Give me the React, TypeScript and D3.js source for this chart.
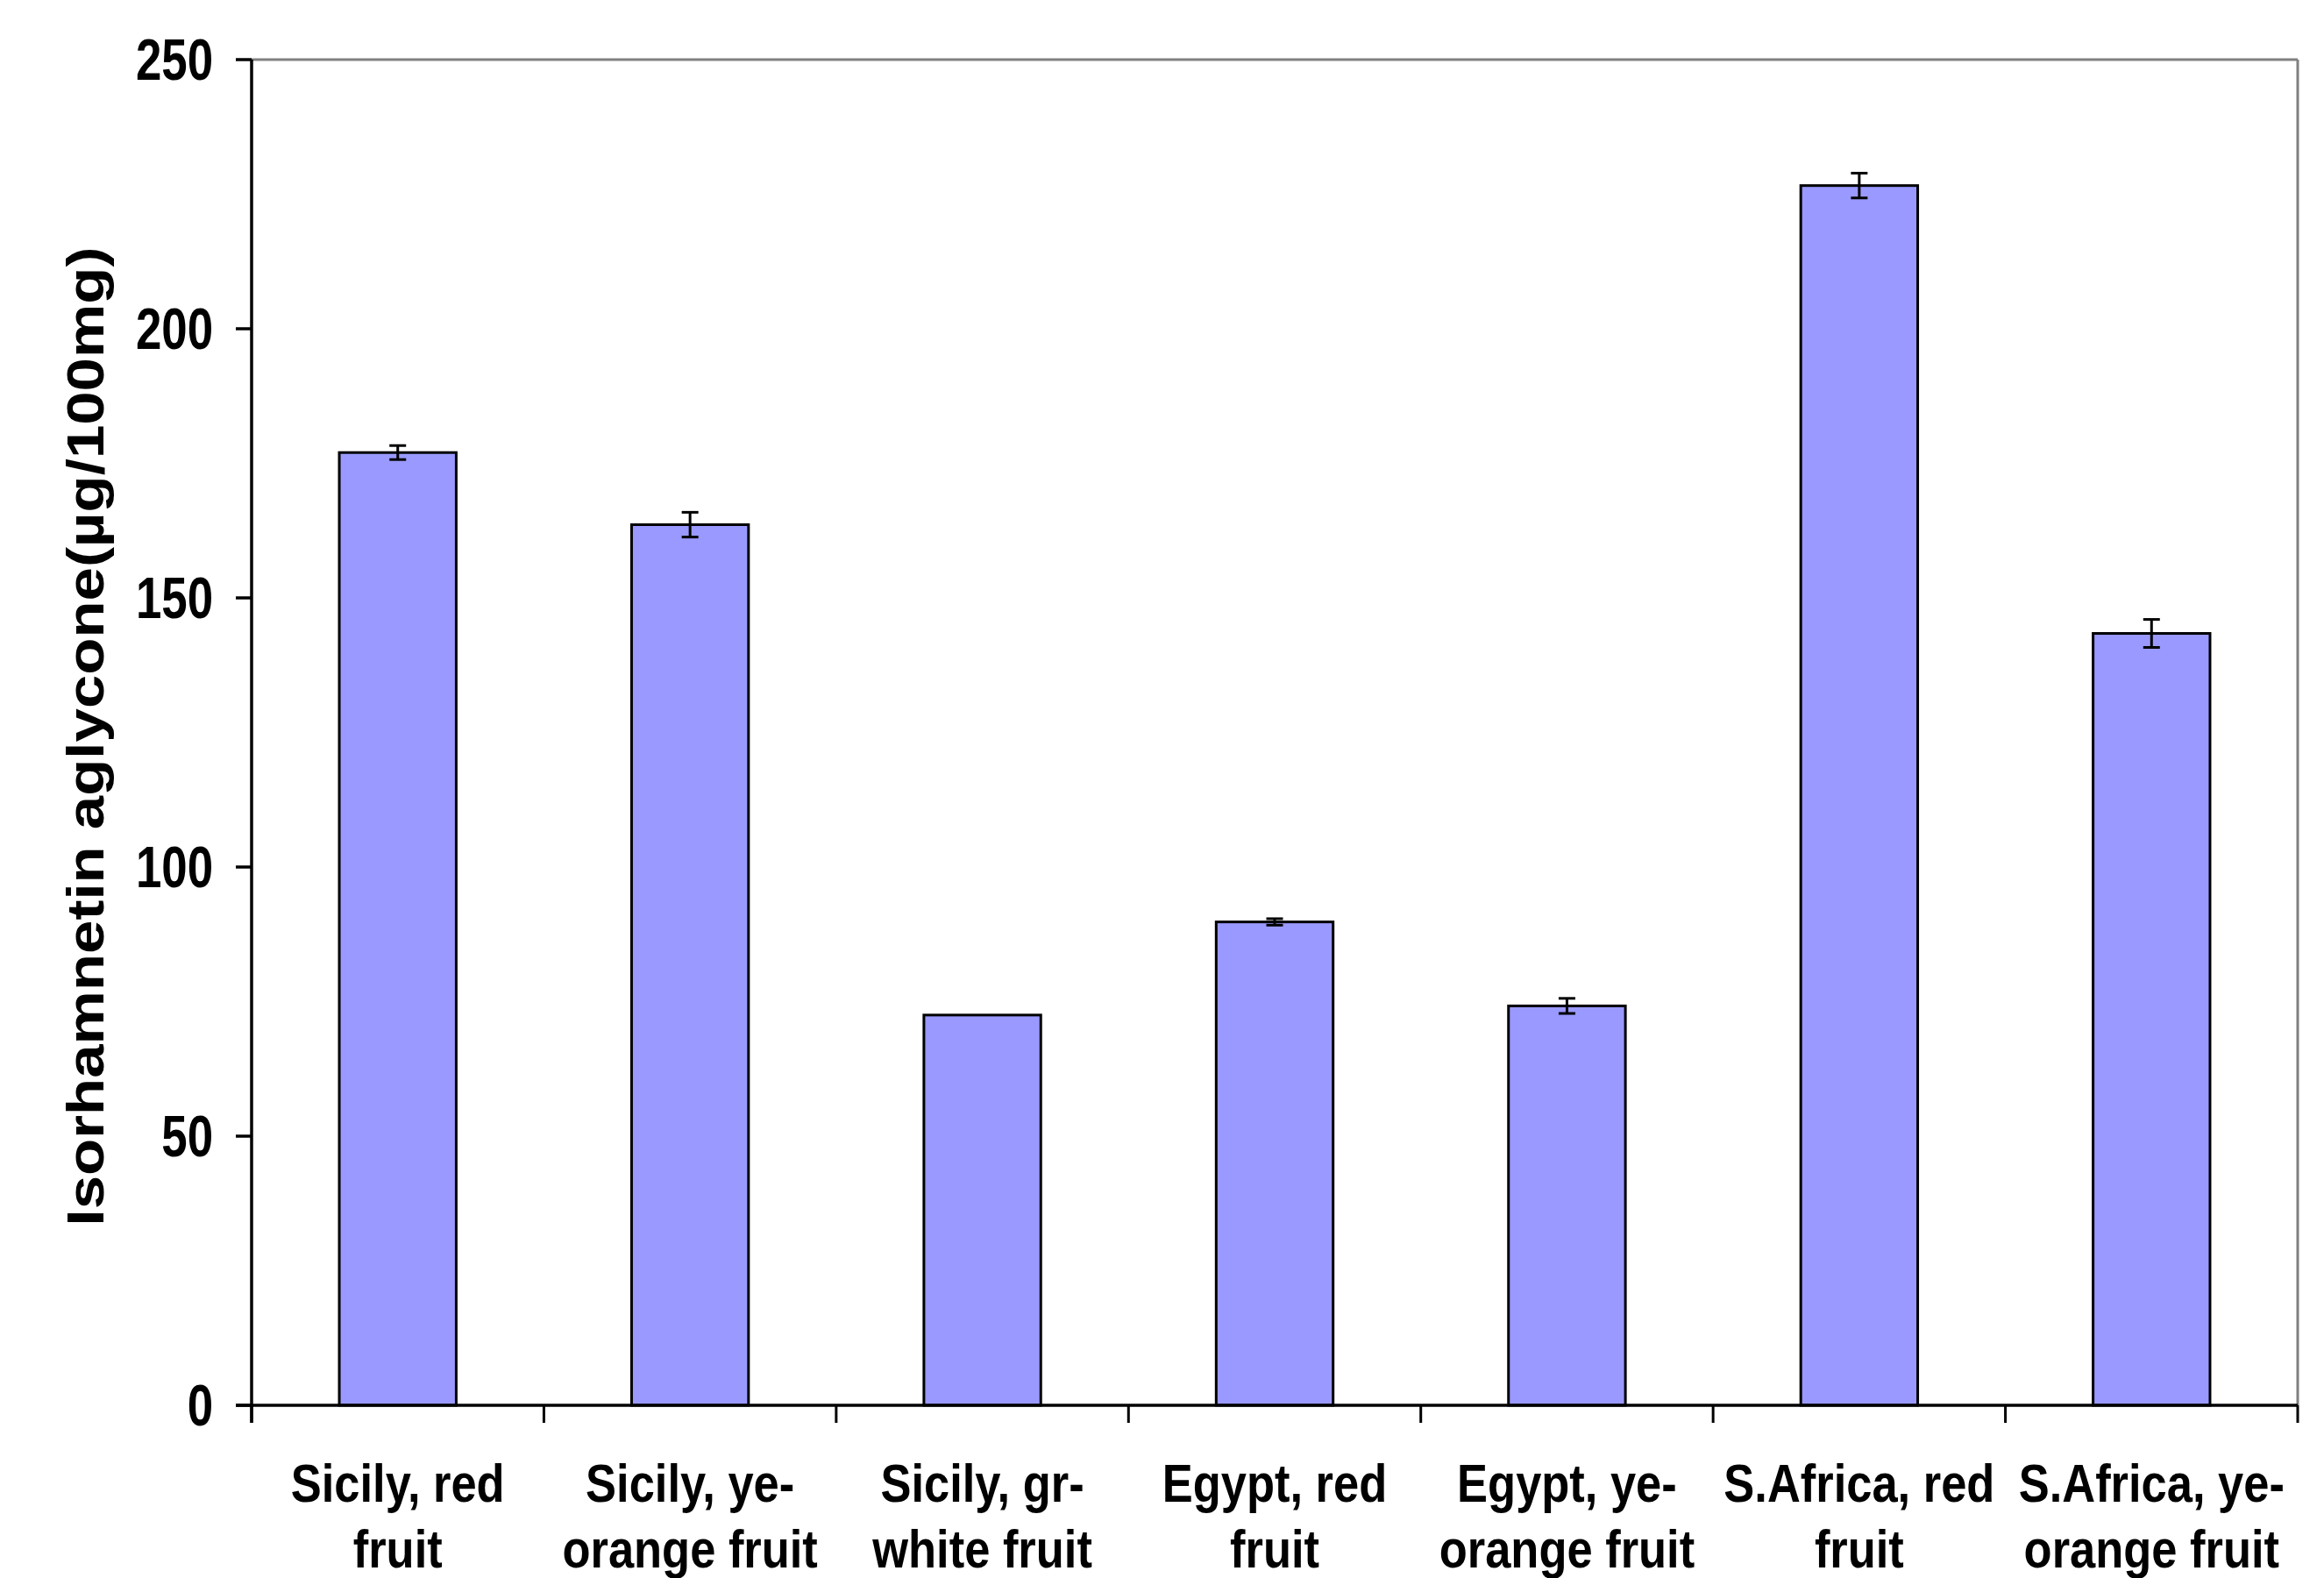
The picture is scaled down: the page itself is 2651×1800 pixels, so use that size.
import React from "react";
import * as d3 from "d3";

const categories: string[][] = [
  ["Sicily, red", "fruit"],
  ["Sicily, ye-", "orange fruit"],
  ["Sicily, gr-", "white fruit"],
  ["Egypt, red", "fruit"],
  ["Egypt, ye-", "orange fruit"],
  ["S.Africa, red", "fruit"],
  ["S.Africa, ye-", "orange fruit"],
];
const values: number[] = [177, 163.6, 72.5, 89.8, 74.2, 226.6, 143.4];
const errors: number[] = [1.3, 2.3, 0, 0.6, 1.4, 2.3, 2.6];
const yTicks: number[] = [0, 50, 100, 150, 200, 250];
const yTitle = "Isorhamnetin aglycone(µg/100mg)";

const W = 2651;
const H = 1800;
const left = 287;
const right = 2621;
const top = 68;
const bottom = 1603;

export default function App() {
  const idx = categories.map((_, i) => String(i));
  const x = d3.scaleBand<string>().domain(idx).range([left, right]).paddingInner(0.6).paddingOuter(0.3);
  const xOuter = d3.scaleBand<string>().domain(idx).range([left, right]);
  const y = d3.scaleLinear().domain([0, 250]).range([bottom, top]);
  const font = "'Liberation Sans', Arial, sans-serif";
  const boundaries = d3.range(categories.length + 1).map((i) => left + i * xOuter.step());

  return (
    <svg width={W} height={H} style={{ position: "absolute", left: 0, top: 0, background: "#fff" }}>
      <rect x={0} y={0} width={W} height={H} fill="#fff" />
      <line x1={left} x2={right} y1={top} y2={top} stroke="#808080" strokeWidth={3} />
      <line x1={right} x2={right} y1={top} y2={bottom} stroke="#808080" strokeWidth={3} />
      {values.map((v, i) => (
        <rect
          key={"b" + i}
          x={x(String(i))}
          y={y(v)}
          width={x.bandwidth()}
          height={bottom - y(v)}
          fill="#9999FF"
          stroke="#000"
          strokeWidth={3}
        />
      ))}
      {values.map((v, i) => {
        const e = errors[i];
        if (!e) return null;
        const cx = (x(String(i)) as number) + x.bandwidth() / 2;
        return (
          <g key={"e" + i} stroke="#000" strokeWidth={3}>
            <line x1={cx} x2={cx} y1={y(v + e)} y2={y(v - e)} />
            <line x1={cx - 9.5} x2={cx + 9.5} y1={y(v + e)} y2={y(v + e)} />
            <line x1={cx - 9.5} x2={cx + 9.5} y1={y(v - e)} y2={y(v - e)} />
          </g>
        );
      })}
      <line x1={left} x2={left} y1={top} y2={bottom + 20} stroke="#000" strokeWidth={3.5} />
      <line x1={left - 18} x2={right} y1={bottom} y2={bottom} stroke="#000" strokeWidth={3.5} />
      {yTicks.map((t) => (
        <g key={"yt" + t}>
          <line x1={left - 18} x2={left} y1={y(t)} y2={y(t)} stroke="#000" strokeWidth={3.5} />
          <text
            transform={`translate(${left - 44},${y(t)}) scale(0.8,1)`}
            textAnchor="end"
            dominantBaseline="central"
            fontFamily={font}
            fontWeight="bold"
            fontSize={66}
            fill="#000"
          >
            {t}
          </text>
        </g>
      ))}
      {boundaries.map((bx, i) => (
        <line key={"xt" + i} x1={bx} x2={bx} y1={bottom} y2={bottom + 20} stroke="#000" strokeWidth={3} />
      ))}
      {categories.map((lines, i) => {
        const cx = (xOuter(String(i)) as number) + xOuter.bandwidth() / 2;
        return lines.map((ln, j) => (
          <text
            key={"xl" + i + "_" + j}
            transform={`translate(${cx},${1713 + j * 75}) scale(0.86,1)`}
            textAnchor="middle"
            fontFamily={font}
            fontWeight="bold"
            fontSize={61}
            fill="#000"
          >
            {ln}
          </text>
        ));
      })}
      <text
        transform={`translate(${98},${840}) rotate(-90) scale(1,0.85)`}
        textAnchor="middle"
        dominantBaseline="central"
        fontFamily={font}
        fontWeight="bold"
        fontSize={69}
        fill="#000"
      >
        {yTitle}
      </text>
    </svg>
  );
}
